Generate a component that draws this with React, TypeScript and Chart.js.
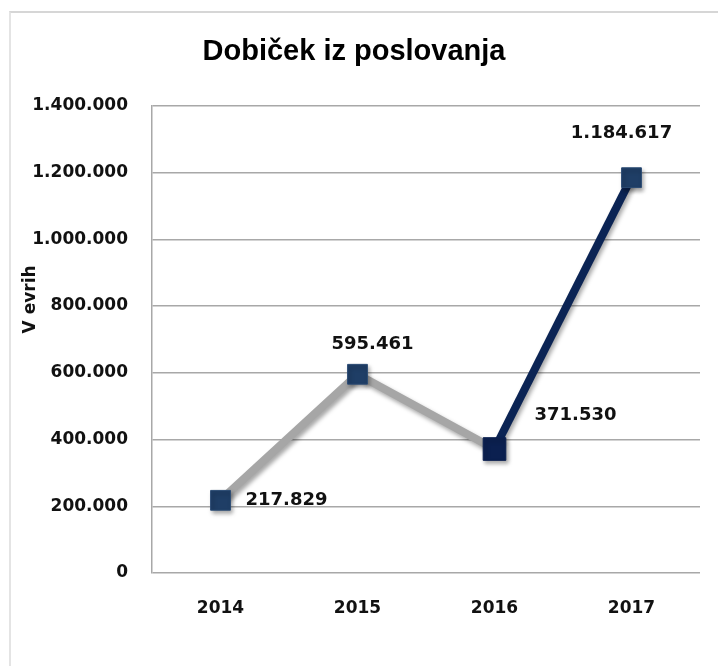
import React, { useEffect, useRef } from "react";
import { Chart, registerables } from "chart.js";

Chart.register(...registerables);

const titleText = "Dobiček iz poslovanja";
const yAxisTitle = "V evrih";
const years = ["2014", "2015", "2016", "2017"];
const profit = [217829, 595461, 371530, 1184617];
const yMin = 0;
const yMax = 1400000;
const yStep = 200000;

const fmt = (v: number) =>
  String(Math.round(v)).replace(/\B(?=(\d{3})+(?!\d))/g, ".");

const GRAY = "#a6a6a6";
const NAVY = "#0b2454";

// placement of the value labels relative to their points
const labelPlacement = [
  { dx: 25, dy: 0, align: "left" },
  { dx: 15, dy: -30, align: "center" },
  { dx: 40, dy: -34, align: "left" },
  { dx: -10, dy: -44, align: "center" },
];

const valueLabels = {
  id: "valueLabels",
  afterDatasetsDraw(chart: any) {
    const ctx = chart.ctx;
    const meta = chart.getDatasetMeta(0);
    ctx.save();
    ctx.font = "bold 18px 'DejaVu Sans'";
    ctx.fillStyle = "#111";
    ctx.textBaseline = "middle";
    meta.data.forEach((pt: any, i: number) => {
      const p = labelPlacement[i];
      ctx.textAlign = p.align;
      ctx.fillText(fmt(profit[i]), pt.x + p.dx, pt.y + p.dy);
    });
    ctx.restore();
  },
};

const yTitlePlugin = {
  id: "yTitlePlugin",
  afterDraw(chart: any) {
    const ctx = chart.ctx;
    const area = chart.chartArea;
    ctx.save();
    ctx.translate(31, (area.top + area.bottom) / 2 - 40);
    ctx.rotate(-Math.PI / 2);
    ctx.font = "bold 17px 'DejaVu Sans'";
    ctx.fillStyle = "#111";
    ctx.textAlign = "center";
    ctx.textBaseline = "middle";
    ctx.fillText(yAxisTitle, 0, 0);
    ctx.restore();
  },
};

const shadowPlugin = {
  id: "shadowPlugin",
  beforeDatasetDraw(chart: any) {
    const ctx = chart.ctx;
    ctx.shadowColor = "rgba(0,0,0,0.35)";
    ctx.shadowBlur = 4;
    ctx.shadowOffsetX = 2;
    ctx.shadowOffsetY = 3;
  },
  afterDatasetDraw(chart: any) {
    const ctx = chart.ctx;
    ctx.shadowColor = "rgba(0,0,0,0)";
    ctx.shadowBlur = 0;
    ctx.shadowOffsetX = 0;
    ctx.shadowOffsetY = 0;
  },
};

export default function App() {
  const ref = useRef<HTMLCanvasElement | null>(null);

  useEffect(() => {
    if (!ref.current) return;
    const chart = new Chart(ref.current, {
      type: "line",
      data: {
        labels: years,
        datasets: [
          {
            data: profit,
            borderWidth: 8,
            borderColor: GRAY,
            segment: {
              borderColor: (c: any) => (c.p0DataIndex >= 2 ? NAVY : GRAY),
            },
            pointStyle: "rect",
            pointRadius: [14, 14, 16, 14],
            pointHoverRadius: [14, 14, 16, 14],
            pointBackgroundColor: ["#1f3e66", "#1f3e66", "#0b2050", "#1f3e66"],
            pointBorderColor: ["#2b4b74", "#2b4b74", "#0b2050", "#2b4b74"],
            pointBorderWidth: 1,
            tension: 0,
            clip: false as any,
          },
        ],
      },
      options: {
        responsive: true,
        maintainAspectRatio: false,
        animation: false,
        events: [],
        layout: { padding: { left: 8, right: 18, top: 12, bottom: 0 } },
        plugins: {
          legend: { display: false },
          tooltip: { enabled: false },
          title: {
            display: true,
            text: titleText,
            color: "#000",
            font: { family: "'Liberation Sans', Arial, sans-serif", size: 29, weight: "bold" },
            padding: { top: 23, bottom: 36 },
          },
        },
        scales: {
          x: {
            offset: true,
            grid: { display: false, drawTicks: false },
            border: { display: false },
            ticks: {
              color: "#111",
              padding: 25,
              font: { family: "'DejaVu Sans'", size: 17, weight: "bold" },
            },
            afterFit: (s: any) => {
              s.height = 93;
            },
          },
          y: {
            min: yMin,
            max: yMax,
            grid: { color: "#a8a8a8", lineWidth: 1.5, drawTicks: false },
            border: { display: true, color: "#a8a8a8", width: 1.5 },
            ticks: {
              stepSize: yStep,
              color: "#111",
              padding: 24,
              font: { family: "'DejaVu Sans'", size: 17, weight: "bold" },
              callback: (v: any) => fmt(Number(v)),
            },
            afterFit: (s: any) => {
              s.width = 144;
            },
          },
        },
      },
      plugins: [shadowPlugin, valueLabels, yTitlePlugin],
    });
    return () => chart.destroy();
  }, []);

  return (
    <div style={{ position: "fixed", left: 0, top: 0, width: 718, height: 666, background: "#fff" }}>
      <div
        style={{
          position: "absolute",
          left: 9,
          top: 11,
          right: 0,
          bottom: 0,
          borderTop: "2px solid #d6d6d6",
          borderLeft: "2px solid #e4e4e4",
        }}
      />
      <canvas ref={ref} style={{ position: "absolute", left: 0, top: 0 }} />
    </div>
  );
}
